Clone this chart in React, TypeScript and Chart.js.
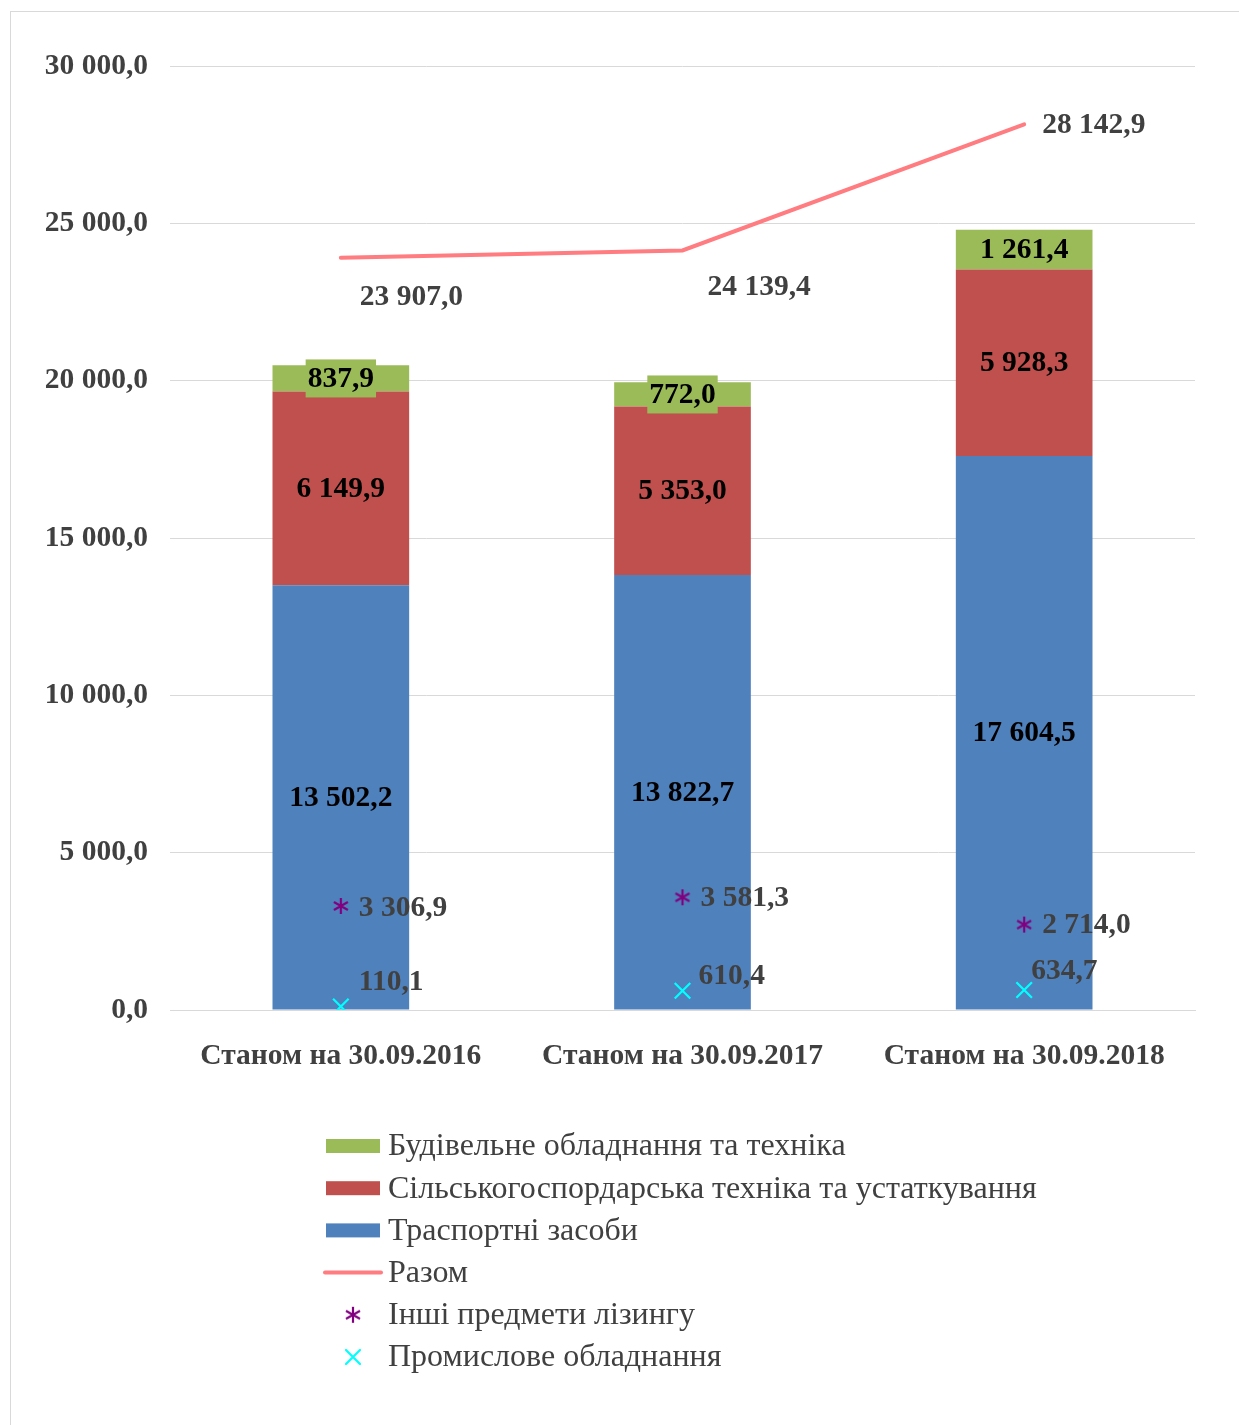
import React, { useEffect, useRef } from "react";
import { Chart, registerables } from "chart.js";

Chart.register(...registerables);

const categories = ["Станом на 30.09.2016", "Станом на 30.09.2017", "Станом на 30.09.2018"];
const transport = [13502.2, 13822.7, 17604.5];
const agricultural = [6149.9, 5353.0, 5928.3];
const construction = [837.9, 772.0, 1261.4];
const total = [23907.0, 24139.4, 28142.9];
const otherItems = [3306.9, 3581.3, 2714.0];
const industrial = [110.1, 610.4, 634.7];
const yMin = 0;
const yMax = 30000;
const yStep = 5000;

const seriesNames = {
  construction: "Будівельне обладнання та техніка",
  agricultural: "Сільськогоспордарська техніка та устаткування",
  transport: "Траспортні засоби",
  total: "Разом",
  other: "Інші предмети лізингу",
  industrial: "Промислове обладнання",
};

const GREEN = "#9BBB59";
const RED = "#C0504D";
const BLUE = "#4F81BD";
const LINE = "#FF7C80";
const PURPLE = "#800080";
const CYAN = "#00FFFF";
const TEXT = "#404040";
const FONT = "'Liberation Serif', 'Times New Roman', serif";
const BOLD_SIZE = 29.5;
const LEGEND_SIZE = 32;

const fmt = (v: number) => {
  const [i, d] = v.toFixed(1).split(".");
  return i.replace(/\B(?=(\d{3})+(?!\d))/g, " ") + "," + d;
};

function makeStar(): HTMLCanvasElement {
  const c = document.createElement("canvas");
  c.width = 18;
  c.height = 18;
  const g = c.getContext("2d")!;
  g.strokeStyle = PURPLE;
  g.lineWidth = 2.2;
  g.beginPath();
  g.moveTo(9, 1);
  g.lineTo(9, 17);
  g.moveTo(2, 5);
  g.lineTo(16, 13);
  g.moveTo(2, 13);
  g.lineTo(16, 5);
  g.stroke();
  return c;
}

function drawCross(ctx: CanvasRenderingContext2D, x: number, y: number, r: number) {
  ctx.save();
  ctx.strokeStyle = CYAN;
  ctx.lineWidth = 2.2;
  ctx.beginPath();
  ctx.moveTo(x - r, y - r);
  ctx.lineTo(x + r, y + r);
  ctx.moveTo(x - r, y + r);
  ctx.lineTo(x + r, y - r);
  ctx.stroke();
  ctx.restore();
}

// label offsets relative to the drawn point (placement only)
const totalLabelOffsets = [[19, 39], [25, 36], [18, 0]];
const otherLabelOffsets = [[18, 1], [18, 0], [18, 0]];
const industrialLabelOffsets = [[18, -25], [16, -15], [7, -20]];

export default function App() {
  const ref = useRef<HTMLCanvasElement | null>(null);

  useEffect(() => {
    if (!ref.current) return;
    const star = makeStar();

    const labelPlugin = {
      id: "valueLabels",
      afterDatasetsDraw(chart: any) {
        const ctx: CanvasRenderingContext2D = chart.ctx;
        ctx.save();
        ctx.font = `bold ${BOLD_SIZE}px ${FONT}`;
        ctx.textBaseline = "middle";
        [0, 1, 2].forEach((di) => {
          const meta = chart.getDatasetMeta(di);
          const data = chart.data.datasets[di].data as number[];
          meta.data.forEach((el: any, i: number) => {
            const text = fmt(data[i]);
            const cy = (el.y + el.base) / 2;
            ctx.textAlign = "center";
            if (di === 2) {
              const w = ctx.measureText(text).width + 4;
              ctx.fillStyle = GREEN;
              ctx.fillRect(el.x - w / 2, cy - 19, w, 38);
            }
            ctx.fillStyle = "#000000";
            ctx.fillText(text, el.x, cy + 1);
          });
        });
        const side = (di: number, offs: number[][]) => {
          const meta = chart.getDatasetMeta(di);
          const data = chart.data.datasets[di].data as number[];
          meta.data.forEach((el: any, i: number) => {
            ctx.textAlign = "left";
            ctx.fillStyle = TEXT;
            ctx.fillText(fmt(data[i]), el.x + offs[i][0], el.y + offs[i][1] + 1);
          });
        };
        side(3, totalLabelOffsets);
        side(4, otherLabelOffsets);
        side(5, industrialLabelOffsets);
        ctx.restore();
      },
    };

    const legendPlugin = {
      id: "customLegend",
      afterDraw(chart: any) {
        const ctx: CanvasRenderingContext2D = chart.ctx;
        const x0 = 315;
        const y0 = 1134;
        const gap = 42.2;
        const textX = 377;
        const items: [string, string][] = [
          ["box:" + GREEN, seriesNames.construction],
          ["box:" + RED, seriesNames.agricultural],
          ["box:" + BLUE, seriesNames.transport],
          ["line", seriesNames.total],
          ["star", seriesNames.other],
          ["cross", seriesNames.industrial],
        ];
        ctx.save();
        ctx.font = `${LEGEND_SIZE}px ${FONT}`;
        ctx.textBaseline = "middle";
        ctx.textAlign = "left";
        items.forEach(([kind, label], k) => {
          const y = y0 + k * gap;
          if (kind.startsWith("box:")) {
            ctx.fillStyle = kind.slice(4);
            ctx.fillRect(x0, y - 7, 54, 14);
          } else if (kind === "line") {
            ctx.strokeStyle = LINE;
            ctx.lineWidth = 4;
            ctx.lineCap = "round";
            ctx.beginPath();
            ctx.moveTo(x0 - 1, y);
            ctx.lineTo(x0 + 55, y);
            ctx.stroke();
          } else if (kind === "star") {
            ctx.drawImage(star, x0 + 27 - 9, y - 9);
          } else {
            drawCross(ctx, x0 + 27, y, 7);
          }
          ctx.fillStyle = TEXT;
          ctx.fillText(label, textX, y + 1);
        });
        ctx.restore();
      },
    };

    const chart = new Chart(ref.current, {
      data: {
        labels: categories,
        datasets: [
          { type: "bar", label: seriesNames.transport, data: transport, backgroundColor: BLUE, stack: "bars", order: 3 },
          { type: "bar", label: seriesNames.agricultural, data: agricultural, backgroundColor: RED, stack: "bars", order: 3 },
          { type: "bar", label: seriesNames.construction, data: construction, backgroundColor: GREEN, stack: "bars", order: 3 },
          {
            type: "line", label: seriesNames.total, data: total, borderColor: LINE, borderWidth: 4,
            pointRadius: 0, stack: "total", order: 2, tension: 0, borderCapStyle: "round",
          },
          {
            type: "line", label: seriesNames.other, data: otherItems, showLine: false,
            pointStyle: star as any, pointRadius: 9, stack: "other", order: 1,
          },
          {
            type: "line", label: seriesNames.industrial, data: industrial, showLine: false,
            pointStyle: "crossRot", pointRadius: 11, borderColor: CYAN, pointBorderWidth: 2.2,
            borderWidth: 2.2, stack: "industrial", order: 1,
          },
        ] as any,
      },
      options: {
        responsive: false,
        animation: false,
        events: [],
        layout: { padding: { top: 54, right: 44, bottom: 334, left: 0 } },
        datasets: { bar: { barPercentage: 0.4, categoryPercentage: 1 } } as any,
        plugins: { legend: { display: false }, tooltip: { enabled: false } },
        scales: {
          x: {
            stacked: true,
            grid: { display: false, drawTicks: false },
            border: { display: true, color: "#d9d9d9", width: 1 },
            ticks: { color: TEXT, font: { family: FONT, size: BOLD_SIZE, weight: "bold" }, padding: 29 },
            afterFit: (s: any) => { s.height = 80; },
          },
          y: {
            stacked: true,
            min: yMin,
            max: yMax,
            ticks: {
              stepSize: yStep,
              color: TEXT,
              padding: 22,
              font: { family: FONT, size: BOLD_SIZE, weight: "bold" },
              callback: (v: any) => fmt(Number(v)),
            },
            grid: { color: "#d9d9d9", lineWidth: 1, drawTicks: false },
            border: { display: false },
            afterFit: (s: any) => { s.width = 159; },
          },
        },
      } as any,
      plugins: [labelPlugin, legendPlugin],
    });
    return () => chart.destroy();
  }, []);

  return (
    <div
      style={{
        position: "absolute", left: 10, top: 11, width: 1240, height: 1420,
        border: "1px solid #d9d9d9", boxSizing: "border-box", background: "#fff",
      }}
    >
      <canvas ref={ref} width={1228} height={1412} style={{ display: "block", width: 1228, height: 1412 }} />
    </div>
  );
}
